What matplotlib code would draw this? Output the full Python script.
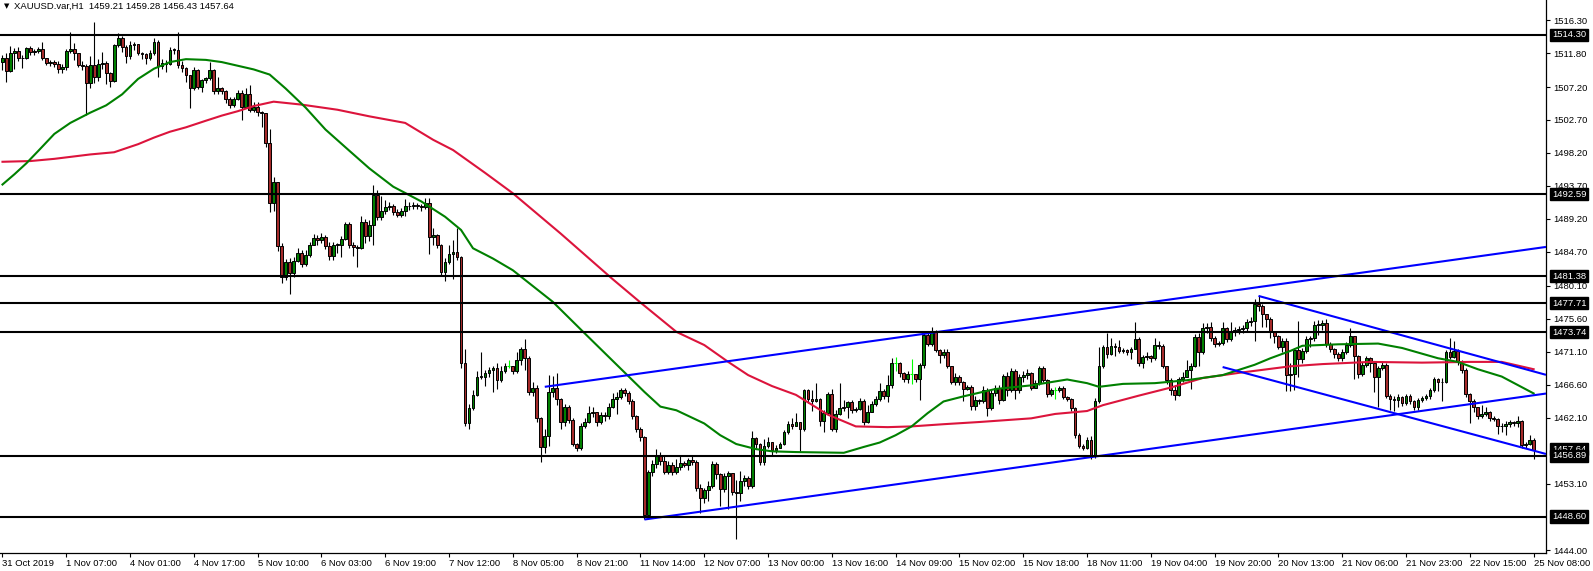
import numpy as np
import matplotlib
matplotlib.use("Agg")
import matplotlib.pyplot as plt
from matplotlib.transforms import blended_transform_factory

plt.rcParams['font.family'] = ['Liberation Sans', 'DejaVu Sans']

symbol = "XAUUSD.var,H1"
ohlc_title = "1459.21 1459.28 1456.43 1457.64"

# hourly bars (open = previous close)
first_open = 1510.6
closes = [
    1511.1, 1509.4, 1511.8, 1512.1, 1511.2, 1511.1, 1512.5, 1512.0, 1512.1, 1512.4,
    1511.1, 1510.5, 1510.6, 1510.4, 1509.7, 1509.9, 1512.1, 1512.4, 1511.8, 1510.2,
    1510.1, 1507.7, 1510.2, 1508.6, 1510.4, 1510.5, 1509.1, 1508.0, 1512.9, 1513.9,
    1512.7, 1511.4, 1512.9, 1513.0, 1511.9, 1511.7, 1511.2, 1511.9, 1513.4, 1510.0,
    1510.5, 1510.4, 1512.3, 1512.2, 1510.2, 1509.8, 1508.9, 1507.1, 1509.5, 1507.2,
    1508.1, 1508.4, 1509.5, 1506.6, 1507.0, 1506.6, 1505.6, 1504.8, 1505.5, 1506.4,
    1504.5, 1506.2, 1504.1, 1504.5, 1503.8, 1503.6, 1499.6, 1491.4, 1494.2, 1485.5,
    1481.3, 1483.3, 1481.8, 1483.4, 1484.5, 1483.1, 1484.3, 1485.7, 1486.6, 1486.3,
    1486.7, 1485.5, 1484.1, 1485.7, 1485.6, 1486.5, 1488.5, 1485.7, 1485.4, 1485.2,
    1488.8, 1486.9, 1488.4, 1492.4, 1489.4, 1490.3, 1490.8, 1490.9, 1490.1, 1489.8,
    1490.3, 1491.0, 1490.9, 1491.1, 1491.0, 1490.8, 1491.4, 1486.7, 1487.0, 1485.6,
    1482.0, 1483.3, 1484.4, 1484.7, 1484.0, 1469.5, 1461.3, 1463.4, 1465.2, 1467.6,
    1467.7, 1468.2, 1468.6, 1468.8, 1467.2, 1468.4, 1469.1, 1469.1, 1468.5, 1470.0,
    1471.5, 1470.3, 1465.6, 1466.2, 1462.0, 1458.1, 1459.6, 1465.6, 1466.2, 1464.6,
    1461.5, 1463.5, 1461.8, 1458.5, 1457.9, 1460.9, 1461.5, 1462.7, 1462.8, 1461.5,
    1462.5, 1462.3, 1463.6, 1464.7, 1464.9, 1465.8, 1465.5, 1464.3, 1462.3, 1460.6,
    1459.5, 1448.8, 1454.7, 1455.8, 1456.8, 1456.2, 1454.7, 1455.6, 1454.7, 1455.3,
    1455.9, 1455.6, 1456.3, 1456.0, 1452.5, 1451.1, 1452.2, 1452.8, 1455.8, 1454.4,
    1452.3, 1454.1, 1454.5, 1452.0, 1451.8, 1453.4, 1453.8, 1452.8, 1459.3, 1458.5,
    1456.0, 1458.2, 1458.8, 1457.7, 1458.0, 1458.5, 1460.1, 1461.2, 1461.0, 1461.5,
    1460.5, 1465.8, 1464.6, 1464.4, 1464.7, 1461.7, 1462.7, 1465.3, 1460.6, 1462.6,
    1463.4, 1463.5, 1464.2, 1463.1, 1463.3, 1464.3, 1461.5, 1462.9, 1464.0, 1464.6,
    1465.7, 1465.0, 1466.5, 1469.5, 1469.5, 1468.2, 1467.4, 1468.0, 1468.0, 1467.4,
    1469.3, 1473.4, 1472.2, 1473.8, 1471.3, 1470.6, 1471.1, 1469.1, 1466.9, 1467.7,
    1466.9, 1466.0, 1466.3, 1463.7, 1464.5, 1464.3, 1465.9, 1463.4, 1465.4, 1466.2,
    1464.5, 1467.8, 1465.9, 1468.5, 1465.9, 1467.6, 1467.9, 1468.2, 1466.1, 1466.8,
    1468.8, 1467.2, 1465.3, 1465.9, 1465.9, 1466.2, 1464.9, 1464.7, 1463.4, 1459.7,
    1458.2, 1458.0, 1459.1, 1456.8, 1464.3, 1469.1, 1471.8, 1470.8, 1471.9, 1471.7,
    1471.2, 1471.3, 1471.1, 1471.5, 1472.8, 1469.6, 1470.4, 1470.5, 1470.3, 1472.0,
    1471.9, 1469.1, 1467.2, 1465.9, 1465.2, 1467.3, 1467.7, 1468.6, 1469.1, 1473.1,
    1471.0, 1474.3, 1474.4, 1472.9, 1472.2, 1472.3, 1474.3, 1472.8, 1473.8, 1474.1,
    1474.2, 1474.3, 1475.2, 1475.3, 1477.6, 1477.3, 1476.2, 1475.6, 1473.8, 1473.2,
    1471.8, 1472.5, 1467.9, 1468.0, 1471.3, 1470.1, 1471.2, 1472.8, 1472.9, 1474.7,
    1474.8, 1475.0, 1472.2, 1471.4, 1470.8, 1470.2, 1471.1, 1472.0, 1473.2, 1470.5,
    1468.1, 1469.3, 1470.2, 1469.5, 1467.6, 1468.8, 1469.3, 1465.1, 1464.6, 1464.5,
    1464.9, 1464.1, 1465.0, 1464.4, 1463.5, 1464.5, 1464.8, 1465.0, 1465.8, 1467.3,
    1466.9, 1467.0, 1471.1, 1470.4, 1471.2, 1469.7, 1468.6, 1465.3, 1464.4, 1463.5,
    1462.3, 1462.6, 1462.8, 1462.0, 1461.9, 1460.9, 1461.0, 1461.2, 1461.5, 1461.4,
    1461.6, 1458.3, 1458.5, 1459.1, 1457.64,
]
highs = [
    1511.6, 1511.8, 1512.8, 1512.5, 1512.6, 1511.6, 1512.6, 1512.8, 1512.4, 1512.7,
    1513.4, 1511.2, 1510.9, 1510.9, 1510.8, 1510.3, 1512.4, 1514.7, 1513.2, 1511.9,
    1510.7, 1510.4, 1511.4, 1516.1, 1511.0, 1512.0, 1510.8, 1509.3, 1513.0, 1514.5,
    1514.1, 1512.9, 1513.5, 1513.4, 1513.1, 1512.0, 1511.9, 1512.2, 1513.9, 1513.6,
    1511.0, 1510.9, 1512.6, 1512.5, 1514.7, 1510.7, 1509.9, 1508.9, 1509.9, 1509.6,
    1508.3, 1508.6, 1510.6, 1509.7, 1508.5, 1507.2, 1506.8, 1505.8, 1505.8, 1506.8,
    1506.8, 1507.0, 1507.5, 1505.2, 1505.1, 1503.9, 1503.7, 1501.5, 1494.9, 1494.3,
    1485.9, 1483.8, 1483.9, 1484.0, 1485.2, 1485.0, 1485.0, 1486.0, 1487.1, 1487.0,
    1487.3, 1487.0, 1486.0, 1486.1, 1485.9, 1486.9, 1488.8, 1488.8, 1486.0, 1485.6,
    1489.6, 1489.2, 1489.1, 1493.9, 1493.2, 1492.3, 1491.8, 1491.5, 1491.2, 1490.5,
    1490.7, 1491.9, 1491.5, 1491.5, 1491.4, 1491.3, 1492.0, 1492.0, 1488.0, 1487.1,
    1485.8, 1483.9, 1485.6, 1486.3, 1487.9, 1484.2, 1471.4, 1464.0, 1465.8, 1468.5,
    1471.0, 1468.6, 1469.0, 1469.2, 1469.5, 1469.2, 1469.5, 1469.9, 1469.2, 1471.1,
    1471.7, 1472.8, 1470.5, 1466.9, 1466.6, 1462.2, 1460.5, 1467.9, 1467.8, 1468.2,
    1464.8, 1464.0, 1463.8, 1462.0, 1458.6, 1461.3, 1462.0, 1463.7, 1463.6, 1462.8,
    1462.8, 1462.8, 1464.1, 1465.5, 1465.6, 1466.2, 1466.2, 1465.7, 1464.6, 1462.4,
    1460.8, 1459.6, 1455.0, 1456.3, 1457.8, 1457.4, 1456.9, 1456.2, 1456.0, 1456.5,
    1456.9, 1456.2, 1456.6, 1456.9, 1456.3, 1453.0, 1452.5, 1453.4, 1456.2, 1456.1,
    1454.6, 1454.5, 1454.8, 1454.6, 1453.6, 1454.8, 1454.3, 1454.2, 1460.3, 1459.5,
    1458.6, 1459.2, 1459.4, 1458.8, 1458.4, 1458.8, 1460.4, 1461.7, 1462.0, 1462.7,
    1461.2, 1466.0, 1466.0, 1465.8, 1466.8, 1464.8, 1463.2, 1465.6, 1466.0, 1463.2,
    1466.8, 1464.5, 1464.4, 1464.5, 1463.6, 1464.8, 1464.6, 1463.8, 1464.3, 1465.0,
    1466.8, 1466.0, 1467.9, 1470.3, 1470.4, 1469.7, 1468.3, 1468.5, 1470.1, 1468.1,
    1469.6, 1473.9, 1473.9, 1474.4, 1474.0, 1471.5, 1471.4, 1471.5, 1469.2, 1468.2,
    1467.9, 1467.1, 1466.6, 1466.5, 1465.1, 1464.6, 1466.4, 1466.2, 1465.8, 1466.6,
    1466.6, 1468.0, 1468.3, 1468.8, 1468.7, 1468.0, 1468.5, 1468.7, 1468.3, 1467.2,
    1469.2, 1469.2, 1467.4, 1466.2, 1466.3, 1466.4, 1466.4, 1465.1, 1464.8, 1463.5,
    1460.0, 1458.5, 1459.5, 1459.6, 1464.8, 1471.8, 1472.0, 1473.6, 1473.0, 1472.3,
    1472.7, 1471.6, 1471.5, 1471.7, 1475.1, 1473.1, 1470.7, 1471.0, 1470.7, 1473.0,
    1472.6, 1472.1, 1469.2, 1467.5, 1466.5, 1467.7, 1468.3, 1469.9, 1469.6, 1473.5,
    1473.6, 1475.0, 1475.0, 1475.1, 1473.2, 1472.6, 1475.1, 1474.5, 1475.1, 1474.5,
    1474.6, 1474.7, 1475.5, 1475.8, 1478.3, 1478.7, 1477.6, 1476.3, 1475.8, 1473.9,
    1473.4, 1473.0, 1473.0, 1469.5, 1471.6, 1475.3, 1471.6, 1473.2, 1473.3, 1475.3,
    1475.4, 1475.4, 1475.5, 1472.4, 1471.6, 1471.0, 1471.4, 1472.4, 1474.3, 1473.3,
    1470.6, 1469.7, 1470.5, 1470.4, 1469.8, 1469.2, 1469.7, 1469.5, 1465.3, 1465.0,
    1465.3, 1465.0, 1465.3, 1465.3, 1464.5, 1464.8, 1465.1, 1465.3, 1466.1, 1467.6,
    1467.5, 1467.5, 1471.3, 1473.0, 1472.5, 1471.4, 1469.9, 1468.8, 1465.5, 1464.6,
    1463.6, 1463.8, 1463.5, 1463.0, 1462.3, 1462.0, 1461.3, 1461.6, 1461.8, 1461.7,
    1462.3, 1461.8, 1458.8, 1459.7, 1459.28,
]
lows = [
    1509.5, 1507.9, 1509.2, 1509.7, 1510.8, 1509.8, 1511.0, 1511.6, 1511.5, 1511.8,
    1510.9, 1510.2, 1510.1, 1509.9, 1509.1, 1509.1, 1509.5, 1511.8, 1510.9, 1509.9,
    1509.5, 1503.4, 1507.0, 1507.7, 1508.0, 1509.6, 1507.6, 1507.2, 1507.9, 1512.7,
    1512.0, 1510.5, 1511.0, 1512.2, 1511.6, 1511.0, 1510.4, 1510.9, 1511.5, 1508.6,
    1509.6, 1509.3, 1510.2, 1511.7, 1509.8, 1509.2, 1507.9, 1504.3, 1506.8, 1506.9,
    1506.5, 1507.8, 1508.2, 1506.3, 1506.2, 1506.2, 1505.0, 1504.4, 1504.5, 1505.4,
    1502.7, 1504.3, 1503.8, 1503.8, 1503.3, 1501.7, 1499.0, 1490.2, 1490.3, 1484.8,
    1480.5, 1480.9, 1479.0, 1481.3, 1483.3, 1482.7, 1482.8, 1484.0, 1485.6, 1485.6,
    1485.9, 1485.1, 1483.6, 1483.6, 1484.6, 1484.0, 1486.3, 1485.3, 1484.1, 1482.7,
    1485.1, 1485.9, 1486.2, 1485.6, 1489.0, 1489.1, 1489.9, 1490.4, 1489.7, 1489.4,
    1489.5, 1489.6, 1490.4, 1490.5, 1490.6, 1490.3, 1490.5, 1484.4, 1485.6, 1485.2,
    1481.6, 1480.8, 1483.0, 1481.0, 1483.6, 1468.9, 1461.0, 1460.5, 1463.1, 1465.0,
    1467.3, 1466.4, 1467.6, 1465.6, 1466.0, 1467.0, 1468.2, 1468.8, 1468.0, 1468.2,
    1469.3, 1468.6, 1465.2, 1465.0, 1461.5, 1456.0, 1457.3, 1458.2, 1464.9, 1463.8,
    1460.5, 1460.9, 1461.4, 1458.2, 1457.6, 1457.7, 1460.7, 1461.3, 1462.2, 1461.0,
    1461.2, 1461.6, 1461.9, 1463.4, 1462.6, 1464.6, 1465.1, 1464.0, 1461.9, 1460.2,
    1458.9, 1448.3, 1448.5, 1454.2, 1455.2, 1455.6, 1454.4, 1454.4, 1454.3, 1454.4,
    1454.9, 1455.3, 1454.9, 1455.6, 1452.1, 1449.1, 1450.5, 1450.7, 1452.5, 1453.7,
    1450.0, 1452.0, 1449.7, 1451.6, 1445.5, 1450.7, 1452.8, 1452.4, 1452.5, 1458.0,
    1455.6, 1455.7, 1458.0, 1457.0, 1457.3, 1457.9, 1458.3, 1459.9, 1460.5, 1460.9,
    1457.6, 1460.3, 1464.1, 1463.0, 1464.2, 1461.0, 1460.2, 1462.5, 1460.3, 1460.2,
    1462.4, 1463.0, 1462.1, 1462.7, 1462.8, 1463.1, 1461.1, 1461.3, 1462.8, 1463.7,
    1464.4, 1464.6, 1464.2, 1466.2, 1468.4, 1467.7, 1467.0, 1466.8, 1466.7, 1467.0,
    1464.5, 1468.9, 1471.9, 1471.9, 1471.0, 1469.5, 1470.3, 1468.9, 1466.7, 1466.6,
    1466.5, 1464.4, 1465.8, 1463.2, 1463.1, 1463.9, 1464.1, 1462.3, 1463.1, 1465.1,
    1464.0, 1464.3, 1465.0, 1465.6, 1464.6, 1465.5, 1467.0, 1467.3, 1465.9, 1466.3,
    1466.5, 1466.9, 1464.9, 1465.1, 1464.6, 1465.6, 1464.6, 1464.3, 1463.0, 1459.3,
    1457.9, 1457.7, 1457.8, 1456.5, 1456.6, 1464.1, 1468.8, 1470.3, 1470.6, 1470.5,
    1470.9, 1470.9, 1470.7, 1470.1, 1471.4, 1469.2, 1468.9, 1470.0, 1469.7, 1469.9,
    1471.5, 1468.8, 1466.7, 1465.2, 1464.5, 1465.0, 1467.0, 1467.6, 1466.0, 1469.0,
    1469.1, 1470.8, 1473.7, 1472.5, 1471.8, 1471.9, 1472.0, 1472.4, 1472.6, 1473.3,
    1473.5, 1473.6, 1473.8, 1474.6, 1472.5, 1476.6, 1474.4, 1474.4, 1472.9, 1472.3,
    1471.4, 1471.0, 1465.7, 1465.7, 1465.8, 1467.7, 1469.6, 1470.9, 1471.8, 1472.6,
    1473.4, 1474.1, 1471.8, 1471.0, 1470.3, 1469.8, 1469.8, 1470.8, 1471.8, 1467.4,
    1467.5, 1467.8, 1469.0, 1468.3, 1465.6, 1463.6, 1468.6, 1464.8, 1463.1, 1463.0,
    1463.6, 1463.7, 1463.8, 1464.0, 1463.2, 1463.2, 1464.2, 1464.5, 1464.6, 1465.6,
    1465.7, 1464.4, 1466.8, 1470.1, 1470.2, 1469.3, 1468.2, 1464.9, 1461.3, 1462.9,
    1461.9, 1462.1, 1462.3, 1461.7, 1461.6, 1459.8, 1460.2, 1459.7, 1460.8, 1461.0,
    1460.8, 1458.0, 1458.0, 1458.3, 1456.43,
]

time_labels = ["31 Oct 2019", "1 Nov 07:00", "4 Nov 01:00", "4 Nov 17:00", "5 Nov 10:00",
               "6 Nov 03:00", "6 Nov 19:00", "7 Nov 12:00", "8 Nov 05:00", "8 Nov 21:00",
               "11 Nov 14:00", "12 Nov 07:00", "13 Nov 00:00", "13 Nov 16:00", "14 Nov 09:00",
               "15 Nov 02:00", "15 Nov 18:00", "18 Nov 11:00", "19 Nov 04:00", "19 Nov 20:00",
               "20 Nov 13:00", "21 Nov 06:00", "21 Nov 23:00", "22 Nov 15:00", "25 Nov 08:00"]
label_step = 16

# moving averages, sampled along the drawn curves (bar index, price)
fast_ma_bars = [0, 3, 6, 9, 13, 17, 22, 26, 30, 34, 38, 42, 46, 51, 55, 59, 63, 67, 71, 76, 81,
                87, 92, 98, 105, 111, 115, 118, 123, 128, 138, 146, 155, 161, 165, 169, 176, 180, 184, 189, 193,
                199, 211, 216, 220, 224, 228, 232, 236, 241, 249, 258, 267, 272, 275, 281, 289, 297, 306, 314, 318,
                323, 326, 335, 345, 351, 360, 365, 370, 376, 384]
fast_ma_vals = [1493.9, 1495.3, 1496.8, 1498.5, 1500.8, 1502.3, 1503.7, 1504.7, 1506.2, 1508.3, 1509.7,
                1510.6, 1511.0, 1510.9, 1510.6, 1510.1, 1509.6, 1508.9, 1507.0, 1504.4, 1501.4,
                1498.5, 1496.1, 1493.6, 1491.6, 1489.5, 1487.7, 1485.2, 1483.8, 1482.2, 1477.9,
                1473.6, 1468.8, 1465.6, 1463.6, 1463.1, 1461.3, 1459.7, 1458.5, 1457.8, 1457.5,
                1457.4, 1457.3, 1458.1, 1458.7, 1459.7, 1460.9, 1462.7, 1464.3, 1465.0, 1466.0,
                1466.5, 1467.3, 1466.8, 1466.3, 1466.7, 1466.8, 1467.2, 1467.9, 1469.3, 1470.2,
                1471.2, 1471.9, 1472.1, 1472.2, 1471.6, 1470.2, 1469.7, 1468.7, 1467.7, 1465.4]
slow_ma_bars = [0, 7, 13, 22, 28, 34, 38, 42, 46, 51, 55, 59, 63, 68, 75, 84, 92, 101, 108, 113,
                121, 128, 140, 153, 160, 169, 176, 182, 187, 193, 199, 207, 214, 222, 228, 236, 245, 258, 264, 272,
                276, 285, 293, 301, 310, 323, 331, 343, 356, 368, 376, 384]
slow_ma_vals = [1497.0, 1497.1, 1497.4, 1498.0, 1498.3, 1499.4, 1500.3, 1501.1, 1501.7, 1502.6,
                1503.3, 1503.9, 1504.6, 1505.2, 1504.8, 1504.1, 1503.2, 1502.3, 1500.0, 1498.6,
                1495.5, 1492.7, 1487.2, 1481.0, 1477.8, 1473.8, 1472.0, 1469.7, 1467.9, 1466.4,
                1465.2, 1462.5, 1460.9, 1460.8, 1460.9, 1461.2, 1461.5, 1462.0, 1462.6, 1463.0,
                1463.8, 1465.1, 1466.2, 1467.5, 1468.2, 1469.1, 1469.4, 1469.7, 1469.6, 1469.7,
                1469.7, 1468.7]

levels = [1514.30, 1492.59, 1481.38, 1477.71, 1473.74, 1456.89, 1448.60]
bid_price = 1457.64

# trend rays: two anchor points each (bar, price), drawn from the first to the right edge
trend_lines = [((136, 1466.3), (386, 1485.3)),
               ((161, 1448.2), (386, 1465.3)),
               ((315, 1478.7), (386, 1468.1)),
               ((306, 1469.0), (386, 1457.3))]

price_ticks = [1516.30, 1511.80, 1507.20, 1502.70, 1498.20, 1493.70, 1489.20, 1484.70,
               1480.10, 1475.60, 1471.10, 1466.60, 1462.10, 1453.10, 1444.00]

W, H = 1593, 571
fig = plt.figure(figsize=(W / 100, H / 100), dpi=100)
ax = fig.add_axes([0, 18 / H, 1546 / W, 553 / H])
x_max = 387.1

c = np.array(closes)
o = np.r_[first_open, c[:-1]]
h = np.maximum(np.array(highs), np.maximum(o, c))
l = np.minimum(np.array(lows), np.minimum(o, c))
x = np.arange(len(c))
up = c > o
dn = c < o
flat = c == o

ax.vlines(x[~flat], l[~flat], h[~flat], color='black', lw=0.8, zorder=2)
ax.vlines(x[flat], l[flat], h[flat], color='#00FF00', lw=0.8, zorder=2)
lo = np.minimum(o, c)
hgt = np.maximum(np.abs(c - o), 0.12)
ax.bar(x[up], hgt[up], 0.7, bottom=lo[up], color='#008000', edgecolor='black', lw=0.7, zorder=3)
ax.bar(x[dn], hgt[dn], 0.7, bottom=lo[dn], color='#A52A2A', edgecolor='black', lw=0.7, zorder=3)
ax.hlines(c[flat], x[flat] - 0.4, x[flat] + 0.4, color='#00FF00', lw=0.8, zorder=3)

ax.plot(slow_ma_bars, slow_ma_vals, color='#DC143C', lw=1.5, zorder=4)
ax.plot(fast_ma_bars, fast_ma_vals, color='#008000', lw=1.5, zorder=4)

for (b0, p0), (b1, p1) in trend_lines:
    k = (p1 - p0) / (b1 - b0)
    ax.plot([b0, x_max], [p0, p0 + k * (x_max - b0)], color='#0000FF', lw=1.5, zorder=5,
            solid_capstyle='butt')

for lv in levels:
    ax.axhline(lv, color='black', lw=1.5, zorder=5)

ax.set_xlim(-0.625, x_max)
ax.set_ylim(1443.63, 1519.07)

ax.yaxis.tick_right()
ax.set_yticks(price_ticks, [f"{p:.2f}" for p in price_ticks])
ax.tick_params(axis='y', direction='out', length=3, width=0.8, pad=2, labelsize=6.8)
ax.set_xticks(np.arange(len(time_labels)) * label_step, time_labels)
for t in ax.get_xticklabels():
    t.set_horizontalalignment('left')
ax.tick_params(axis='x', direction='out', length=3, width=0.8, pad=1.5, labelsize=6.8)
for s in ['top', 'left']:
    ax.spines[s].set_visible(False)
for s in ['right', 'bottom']:
    ax.spines[s].set_linewidth(0.9)

trans = blended_transform_factory(ax.transAxes, ax.transData)
box = dict(boxstyle='square,pad=0.18', facecolor='black', edgecolor='black')
ax.text(1 + 6 / 1546, bid_price + 0.15, f"{bid_price:.2f}", transform=trans, color='white',
        fontsize=6.8, va='center', ha='left', bbox=box, clip_on=False, zorder=6)
for lv in levels:
    ax.text(1 + 6 / 1546, lv, f"{lv:.2f}", transform=trans, color='white', fontsize=6.8,
            va='center', ha='left', bbox=box, clip_on=False, zorder=7)

fig.text(4 / W, 1 - 6 / H, "▼", fontsize=5, va='center', family='DejaVu Sans')
fig.text(14 / W, 1 - 6 / H, f"{symbol}  {ohlc_title}", fontsize=6.8, va='center')

fig.savefig("out.png", dpi=100)
